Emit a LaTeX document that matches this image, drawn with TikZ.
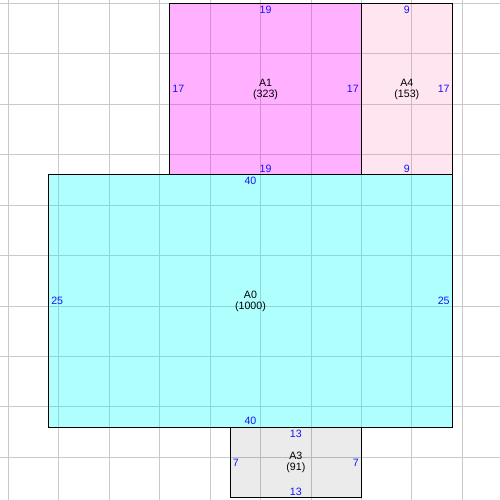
\documentclass[tikz,border=0pt]{standalone}
\usepackage{fontspec}
\setmainfont{Liberation Sans}

\definecolor{aqua}{RGB}{0,255,255}
\definecolor{fuchsia}{RGB}{255,0,255}
\definecolor{rose}{RGB}{255,110,170}
\definecolor{lenblue}{RGB}{20,20,255}

\def\gu{2.666mm}
\tikzset{
  room/.style={draw=black, line width=0.75pt, fill opacity=0.31, text opacity=1,
    inner sep=0pt, outer sep=0pt, align=center, font=\fontsize{8}{8.4}\selectfont},
  len/.style={text=lenblue, inner sep=1.8pt, font=\fontsize{8}{8.4}\selectfont},
  gridline/.style={line width=0.75pt, black!21},
}

\begin{document}
\begin{tikzpicture}[x=\gu,y=\gu]
\useasboundingbox (-0.82,-49.22) rectangle (48.73,0.33);
\draw[gridline, step=5] (-0.82,-49.22) grid (48.73,0.33);

%rooms
\node[room, fill=aqua, minimum width=40*\gu, minimum height=25*\gu] (a0) at (24,-29.5) {A0\\(1000)};
\node[room, fill=fuchsia, minimum width=19*\gu, minimum height=17*\gu] (a1) at (25.5,-8.5) {A1\\(323)};
\node[room, fill=rose, fill opacity=0.18, minimum width=9*\gu, minimum height=17*\gu] (a4) at (39.5,-8.5) {A4\\(153)};
\node[room, fill=black, fill opacity=0.08, minimum width=13*\gu, minimum height=7*\gu] (a3) at (28.5,-45.5) {A3\\(91)};

%lengths
\node[len, anchor=north] (a0-n) at (a0.north) {40};
\node[len, anchor=south] (a0-s) at (a0.south) {40};
\node[len, anchor=west] (a0-w) at (a0.west) {25};
\node[len, anchor=east] (a0-e) at (a0.east) {25};

\node[len, anchor=north] (a1-n) at (a1.north) {19};
\node[len, anchor=south] (a1-s) at (a1.south) {19};
\node[len, anchor=west] (a1-w) at (a1.west) {17};
\node[len, anchor=east] (a1-e) at (a1.east) {17};

\node[len, anchor=north] (a4-n) at (a4.north) {9};
\node[len, anchor=south] (a4-s) at (a4.south) {9};
\node[len, anchor=east] (a4-e) at (a4.east) {17};

\node[len, anchor=north] (a3-n) at (a3.north) {13};
\node[len, anchor=south] (a3-s) at (a3.south) {13};
\node[len, anchor=west] (a3-w) at (a3.west) {7};
\node[len, anchor=east] (a3-e) at (a3.east) {7};
\end{tikzpicture}
\end{document}
